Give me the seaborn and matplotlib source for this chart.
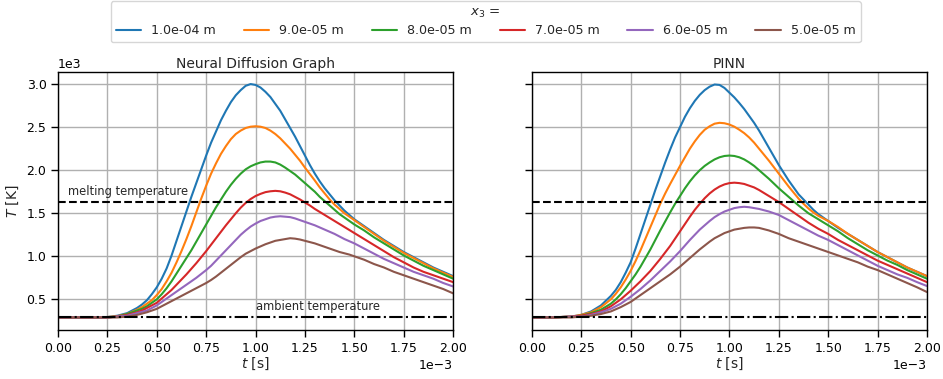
import numpy as np
import pandas as pd
import matplotlib
matplotlib.use("Agg")
import matplotlib.pyplot as plt
import seaborn as sns

# time samples in ms (0 .. 2e-3 s)
t_ms = [0.00, 0.10, 0.20, 0.25, 0.30, 0.35,
        0.400, 0.425, 0.450, 0.475, 0.500, 0.525, 0.550, 0.575, 0.600, 0.625,
        0.650, 0.675, 0.700, 0.725, 0.750, 0.775, 0.800, 0.825, 0.850, 0.875,
        0.900, 0.925, 0.950, 0.975, 1.000, 1.025, 1.050, 1.075, 1.100, 1.125,
        1.150, 1.175, 1.200, 1.225, 1.250, 1.275, 1.300, 1.325, 1.350, 1.375,
        1.400, 1.425, 1.450, 1.475, 1.500,
        1.55, 1.60, 1.65, 1.70, 1.75, 1.80, 1.85, 1.90, 1.95, 2.00]

depths = ["1.0e-04 m", "9.0e-05 m", "8.0e-05 m", "7.0e-05 m", "6.0e-05 m", "5.0e-05 m"]

# Neural Diffusion Graph, temperatures in 1e3 K
ndg_100 = [0.29, 0.29, 0.29, 0.295, 0.31, 0.34,
           0.40, 0.44, 0.49, 0.56, 0.64, 0.74, 0.86, 1.01, 1.18, 1.35,
           1.52, 1.69, 1.85, 2.01, 2.17, 2.32, 2.45, 2.58, 2.69, 2.79,
           2.87, 2.93, 2.98, 3.00, 2.99, 2.96, 2.91, 2.85, 2.77, 2.69,
           2.59, 2.49, 2.39, 2.28, 2.17, 2.06, 1.96, 1.87, 1.79, 1.72,
           1.65, 1.59, 1.53, 1.48, 1.43,
           1.35, 1.27, 1.19, 1.12, 1.05, 0.99, 0.93, 0.87, 0.82, 0.77]
ndg_90 = [0.29, 0.29, 0.29, 0.295, 0.305, 0.33,
          0.38, 0.41, 0.45, 0.49, 0.55, 0.62, 0.71, 0.81, 0.93, 1.06,
          1.20, 1.35, 1.51, 1.67, 1.82, 1.96, 2.08, 2.19, 2.28, 2.36,
          2.42, 2.46, 2.49, 2.505, 2.51, 2.505, 2.49, 2.46, 2.42, 2.37,
          2.31, 2.25, 2.18, 2.11, 2.03, 1.955, 1.88, 1.80, 1.73, 1.66,
          1.60, 1.55, 1.50, 1.46, 1.42,
          1.34, 1.26, 1.18, 1.11, 1.04, 0.98, 0.92, 0.86, 0.81, 0.76]
ndg_80 = [0.29, 0.29, 0.29, 0.29, 0.30, 0.33,
          0.37, 0.39, 0.42, 0.46, 0.50, 0.56, 0.63, 0.71, 0.80, 0.89,
          0.98, 1.07, 1.17, 1.27, 1.37, 1.47, 1.57, 1.66, 1.75, 1.83,
          1.90, 1.96, 2.01, 2.045, 2.07, 2.09, 2.10, 2.10, 2.09, 2.065,
          2.03, 1.99, 1.95, 1.90, 1.85, 1.80, 1.75, 1.69, 1.64, 1.59,
          1.54, 1.49, 1.45, 1.41, 1.37,
          1.30, 1.22, 1.15, 1.08, 1.01, 0.95, 0.89, 0.84, 0.79, 0.74]
ndg_70 = [0.29, 0.29, 0.29, 0.29, 0.30, 0.32,
          0.35, 0.37, 0.40, 0.43, 0.46, 0.51, 0.56, 0.61, 0.67, 0.73,
          0.79, 0.855, 0.92, 0.99, 1.06, 1.135, 1.21, 1.285, 1.36, 1.43,
          1.50, 1.565, 1.62, 1.665, 1.70, 1.725, 1.745, 1.755, 1.76, 1.755,
          1.74, 1.72, 1.69, 1.66, 1.625, 1.59, 1.55, 1.515, 1.48, 1.445,
          1.41, 1.375, 1.34, 1.305, 1.27,
          1.20, 1.13, 1.06, 0.99, 0.93, 0.87, 0.82, 0.78, 0.74, 0.70]
ndg_60 = [0.29, 0.29, 0.29, 0.29, 0.30, 0.31,
          0.34, 0.355, 0.37, 0.40, 0.43, 0.47, 0.51, 0.55, 0.59, 0.63,
          0.67, 0.71, 0.75, 0.795, 0.84, 0.89, 0.95, 1.01, 1.07, 1.13,
          1.19, 1.25, 1.30, 1.345, 1.38, 1.41, 1.43, 1.45, 1.46, 1.465,
          1.46, 1.455, 1.44, 1.42, 1.40, 1.38, 1.36, 1.335, 1.31, 1.285,
          1.26, 1.23, 1.20, 1.175, 1.15,
          1.09, 1.03, 0.97, 0.92, 0.87, 0.82, 0.78, 0.74, 0.69, 0.65]
ndg_50 = [0.29, 0.29, 0.29, 0.29, 0.29, 0.30,
          0.32, 0.335, 0.35, 0.37, 0.39, 0.42, 0.45, 0.48, 0.51, 0.54,
          0.57, 0.60, 0.63, 0.66, 0.69, 0.725, 0.765, 0.81, 0.855, 0.90,
          0.945, 0.99, 1.03, 1.06, 1.09, 1.115, 1.14, 1.16, 1.18, 1.19,
          1.20, 1.21, 1.205, 1.195, 1.18, 1.165, 1.15, 1.13, 1.11, 1.09,
          1.07, 1.05, 1.035, 1.02, 1.00,
          0.96, 0.91, 0.87, 0.82, 0.78, 0.74, 0.70, 0.66, 0.62, 0.57]

# PINN, temperatures in 1e3 K
pinn_100 = [0.29, 0.29, 0.30, 0.32, 0.36, 0.43,
            0.54, 0.61, 0.70, 0.81, 0.93, 1.09, 1.26, 1.43, 1.60, 1.77,
            1.93, 2.09, 2.24, 2.38, 2.50, 2.62, 2.72, 2.805, 2.875, 2.93,
            2.97, 2.995, 2.99, 2.955, 2.90, 2.845, 2.78, 2.71, 2.63, 2.55,
            2.46, 2.36, 2.26, 2.16, 2.06, 1.97, 1.88, 1.80, 1.72, 1.66,
            1.60, 1.54, 1.49, 1.45, 1.41,
            1.33, 1.26, 1.19, 1.12, 1.05, 0.99, 0.93, 0.87, 0.82, 0.77]
pinn_90 = [0.29, 0.29, 0.30, 0.32, 0.35, 0.41,
           0.50, 0.565, 0.64, 0.73, 0.83, 0.945, 1.07, 1.205, 1.34, 1.475,
           1.61, 1.73, 1.84, 1.945, 2.05, 2.15, 2.25, 2.335, 2.41, 2.47,
           2.51, 2.54, 2.55, 2.545, 2.53, 2.505, 2.47, 2.43, 2.38, 2.32,
           2.25, 2.18, 2.11, 2.035, 1.96, 1.885, 1.81, 1.74, 1.67, 1.61,
           1.555, 1.51, 1.47, 1.44, 1.41,
           1.34, 1.26, 1.19, 1.12, 1.05, 0.99, 0.93, 0.87, 0.82, 0.77]
pinn_80 = [0.29, 0.29, 0.30, 0.31, 0.34, 0.38,
           0.45, 0.50, 0.56, 0.63, 0.71, 0.79, 0.88, 0.98, 1.08, 1.19,
           1.30, 1.405, 1.51, 1.61, 1.70, 1.79, 1.87, 1.94, 2.00, 2.05,
           2.09, 2.125, 2.15, 2.165, 2.17, 2.165, 2.15, 2.125, 2.09, 2.05,
           2.00, 1.95, 1.90, 1.845, 1.79, 1.74, 1.69, 1.64, 1.59, 1.545,
           1.50, 1.465, 1.43, 1.395, 1.36,
           1.29, 1.21, 1.14, 1.07, 1.01, 0.95, 0.90, 0.84, 0.79, 0.74]
pinn_70 = [0.29, 0.29, 0.30, 0.31, 0.33, 0.36,
           0.42, 0.46, 0.50, 0.55, 0.60, 0.655, 0.71, 0.77, 0.83, 0.90,
           0.97, 1.045, 1.12, 1.205, 1.29, 1.375, 1.46, 1.54, 1.61, 1.675,
           1.73, 1.775, 1.81, 1.835, 1.85, 1.855, 1.85, 1.84, 1.82, 1.80,
           1.77, 1.735, 1.70, 1.665, 1.63, 1.59, 1.55, 1.51, 1.47, 1.43,
           1.39, 1.355, 1.32, 1.29, 1.26,
           1.19, 1.13, 1.07, 1.01, 0.95, 0.90, 0.85, 0.80, 0.75, 0.70]
pinn_60 = [0.29, 0.29, 0.30, 0.30, 0.32, 0.35,
           0.39, 0.42, 0.45, 0.49, 0.53, 0.575, 0.62, 0.67, 0.72, 0.775,
           0.83, 0.885, 0.94, 1.00, 1.06, 1.125, 1.19, 1.25, 1.31, 1.36,
           1.41, 1.455, 1.49, 1.52, 1.54, 1.56, 1.57, 1.575, 1.57, 1.56,
           1.55, 1.535, 1.52, 1.50, 1.48, 1.45, 1.42, 1.39, 1.36, 1.33,
           1.30, 1.27, 1.24, 1.215, 1.19,
           1.13, 1.07, 1.01, 0.95, 0.89, 0.84, 0.79, 0.75, 0.70, 0.655]
pinn_50 = [0.29, 0.29, 0.29, 0.30, 0.31, 0.33,
           0.36, 0.385, 0.41, 0.44, 0.47, 0.51, 0.55, 0.59, 0.63, 0.67,
           0.71, 0.75, 0.79, 0.835, 0.88, 0.93, 0.98, 1.03, 1.08, 1.125,
           1.17, 1.21, 1.24, 1.27, 1.29, 1.31, 1.32, 1.33, 1.335, 1.335,
           1.33, 1.315, 1.30, 1.28, 1.26, 1.235, 1.21, 1.19, 1.17, 1.15,
           1.13, 1.11, 1.09, 1.07, 1.05,
           1.01, 0.97, 0.93, 0.88, 0.84, 0.79, 0.74, 0.69, 0.64, 0.585]

T_melt = 1630  # K
T_amb = 300    # K

ndg = [ndg_100, ndg_90, ndg_80, ndg_70, ndg_60, ndg_50]
pinn = [pinn_100, pinn_90, pinn_80, pinn_70, pinn_60, pinn_50]


def to_long(curves):
    rows = []
    for name, vals in zip(depths, curves):
        assert len(vals) == len(t_ms), name
        for t, v in zip(t_ms, vals):
            rows.append({"t": t * 1e-3, "T": v * 1e3, "x3": name})
    return pd.DataFrame(rows)


sns.set_style("ticks")
plt.rcParams.update({
    "font.family": ["DejaVu Sans"],
    "font.size": 10,
    "axes.edgecolor": "black",
    "axes.linewidth": 1.0,
    "xtick.major.size": 4.8,
    "ytick.major.size": 4.8,
    "xtick.major.width": 1.0,
    "ytick.major.width": 1.0,
    "xtick.labelsize": 9,
    "ytick.labelsize": 9,
    "xtick.color": "black",
    "ytick.color": "black",
})

fig = plt.figure(figsize=(9.43, 3.79), dpi=100)
ax1 = fig.add_axes([0.0615, 0.129, 0.419, 0.681])
ax2 = fig.add_axes([0.564, 0.129, 0.419, 0.681], sharey=ax1)

palette = sns.color_palette("tab10", 6)

for ax, curves, title in [(ax1, ndg, "Neural Diffusion Graph"), (ax2, pinn, "PINN")]:
    df = to_long(curves)
    sns.lineplot(data=df, x="t", y="T", hue="x3", hue_order=depths,
                 palette=palette, linewidth=1.5, legend=False, ax=ax)
    ax.axhline(T_melt, color="black", ls="--", lw=1.5, zorder=3)
    ax.axhline(T_amb, color="black", ls="-.", lw=1.5, zorder=3)
    ax.grid(True, color="#b0b0b0", lw=1.0)
    ax.set_axisbelow(True)
    ax.set_xlim(0, 0.002)
    ax.set_ylim(143, 3140)
    ax.set_xticks([0, 0.00025, 0.0005, 0.00075, 0.001, 0.00125, 0.0015, 0.00175, 0.002])
    ax.set_yticks([500, 1000, 1500, 2000, 2500, 3000])
    ax.ticklabel_format(style="sci", axis="both", scilimits=(0, 0))
    ax.xaxis.get_offset_text().set_fontsize(9)
    ax.yaxis.get_offset_text().set_fontsize(9)
    ax.set_title(title, fontsize=10, pad=3)
    ax.set_xlabel("$t$ [s]", fontsize=10, labelpad=1)
    for s in ax.spines.values():
        s.set_visible(True)
        s.set_color("black")

ax1.set_ylabel("$T$ [K]", fontsize=10)
ax2.set_ylabel("")
ax2.tick_params(axis="y", labelleft=False)
ax2.yaxis.get_offset_text().set_visible(False)

ax1.text(0.00005, T_melt + 45, "melting temperature", fontsize=8.3, va="bottom")
ax1.text(0.001, T_amb + 40, "ambient temperature", fontsize=8.3, va="bottom")

handles = ax1.get_lines()[:6]
fig.legend(handles, depths, loc="upper center", bbox_to_anchor=(0.515, 1.0),
           ncol=6, title="$x_3$ =", fontsize=9.1, title_fontsize=9.6,
           frameon=True, handlelength=2.0, columnspacing=2.2,
           borderpad=0.4, labelspacing=0.3, borderaxespad=0.1)

fig.savefig("out.png", dpi=100)
